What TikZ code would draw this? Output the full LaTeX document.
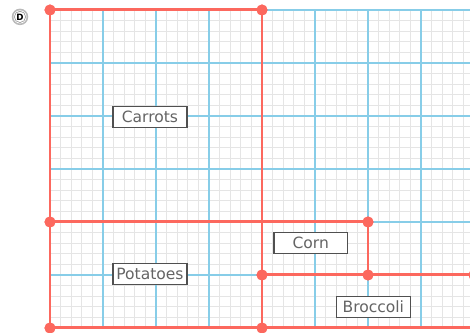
\documentclass[tikz,border=0pt]{standalone}
\usepackage{fontspec}
\setmainfont{DejaVu Sans}
\usetikzlibrary{positioning}
\definecolor{fieldred}{RGB}{252,104,94}
\definecolor{gridblue}{RGB}{135,205,232}
\definecolor{gridgrey}{RGB}{229,229,229}
\definecolor{labelgrey}{RGB}{80,80,80}
\definecolor{textgrey}{RGB}{100,100,100}
\begin{document}
\begin{tikzpicture}[x=0.3cm, y=0.3cm,
  minorline/.style={gridgrey, line width=1pt},
  majorline/.style={gridblue, line width=1.3pt},
  fence/.style={fieldred, line width=2.4pt},
  post/.style={circle, fill=fieldred, inner sep=0pt, minimum size=0.31cm},
  crop/.style={draw=labelgrey, line width=1.1pt, fill=white, text=textgrey, font=\fontsize{12.5}{14}\selectfont, minimum width=2.09cm, minimum height=0.59cm, inner sep=1pt}]
\useasboundingbox (-4.717,-0.472) rectangle (39.623,30.943);
\clip (-4.717,-0.472) rectangle (39.623,30.943);
% paper
\draw[minorline, step=1] (0,0) grid (39.7,30);
\draw[majorline, step=5] (0,0) grid (39.7,30);
% corner posts
\node[post] (nw) at (0,30) {};
\node[post] (ne) at (20,30) {};
\node[post] (w) at (0,10) {};
\node[post] (cornne) at (30,10) {};
\node[post] (brocnw) at (20,5) {};
\node[post] (brocn) at (30,5) {};
\node[post] (broce) at (40,5) {};
\node[post] (sw) at (0,0) {};
\node[post] (s) at (20,0) {};
\coordinate (se) at (40,0);
% fences
\draw[fence] (nw.center) -- (ne.center);
\draw[fence] (nw.center) -- (sw.center);
\draw[fence] (ne.center) -- (s.center);
\draw[fence] (w.center) -- (cornne.center);
\draw[fence] (cornne.center) -- (brocn.center);
\draw[fence] (brocnw.center) -- (broce.center);
\draw[fence] (sw.center) -- (se);
% redraw posts on top
\foreach \p in {nw,ne,w,cornne,brocnw,brocn,broce,sw,s}
  \fill[fieldred] (\p) circle (0.52);
% beds
\node[crop] (carrots) at (9.43,19.9) {Carrots};
\node[crop] (corn) at (24.6,8.0) {Corn};
\node[crop] (potatoes) at (9.43,5.1) {Potatoes};
\node[crop] (broccoli) at (30.5,2.0) {Broccoli};
% letter badge
\fill[gray!55] (-2.83,29.35) circle (0.78);
\fill[white] (-2.83,29.35) circle (0.62);
\node[circle, draw=gray!80, line width=0.5pt, inner sep=0.5pt, minimum size=0.31cm, font=\fontsize{7}{8}\selectfont\bfseries] (badge) at (-2.83,29.35) {D};
\end{tikzpicture}
\end{document}
